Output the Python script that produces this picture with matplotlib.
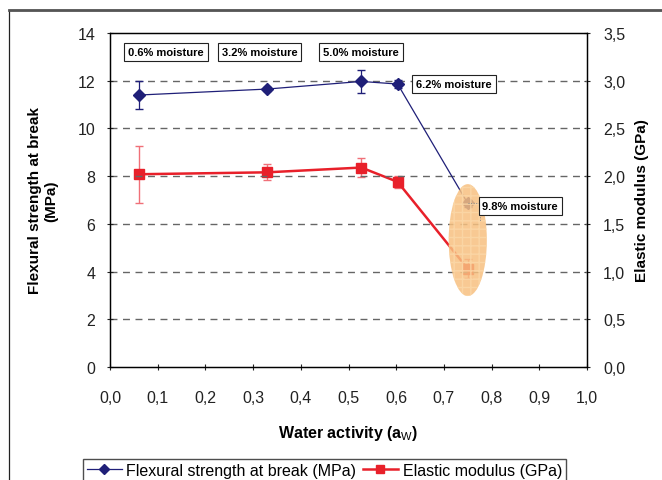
import numpy as np
import matplotlib.pyplot as plt
from matplotlib.patches import Ellipse, Rectangle

plt.rcParams['font.family'] = ['Liberation Sans', 'DejaVu Sans']
plt.rcParams['mathtext.fontset'] = 'custom'
plt.rcParams['mathtext.rm'] = 'Liberation Sans'
plt.rcParams['mathtext.bf'] = 'Liberation Sans:bold'

# dados
aw = [0.061, 0.329, 0.527, 0.603, 0.75]
flex = [11.40, 11.65, 11.97, 11.86, 6.86]
flex_err = [0.59, 0.1, 0.47, 0.15, 0.15]
modulus = [2.02, 2.04, 2.09, 1.94, 1.03]
modulus_err = [0.30, 0.084, 0.10, 0.063, 0.10]

moisture_labels = ['0.6% moisture', '3.2% moisture', '5.0% moisture', '6.2% moisture', '9.8% moisture']
label_pos = [(0.117, 13.2), (0.314, 13.2), (0.526, 13.2), (0.721, 11.86), (0.86, 6.75)]

x_ticks = np.arange(0, 1.01, 0.1)
y_ticks = np.arange(0, 15, 2)
y2_ticks = np.arange(0, 3.51, 0.5)

navy = '#1f1f78'
red = '#e8202a'

fig = plt.figure(figsize=(6.62, 4.81), dpi=100)
fig.patches.append(Rectangle((9 / 662, -0.1), 1.2, 1 - 11 / 481 + 0.1, transform=fig.transFigure,
                             fill=False, edgecolor='#222222', linewidth=0.9))
fig.add_artist(plt.Line2D([9 / 662, 1], [1 - 11 / 481, 1 - 11 / 481], transform=fig.transFigure,
                          color='#555555', linewidth=2))

ax = fig.add_axes([110 / 662, 1 - 368 / 481, 477 / 662, 334 / 481])
ax2 = ax.twinx()

# linhas de grade tracejadas
for v in y_ticks[1:-1]:
    ax.axhline(v, color='#666666', linestyle=(0, (5, 4)), linewidth=1, zorder=0)

ax.errorbar(aw, flex, yerr=flex_err, color=navy, linewidth=0.9, marker='D', markersize=6,
            ecolor=navy, elinewidth=0.9, capsize=3, zorder=3)
ax2.errorbar(aw, modulus, yerr=modulus_err, color=red, linewidth=1.8, marker='s', markersize=7,
             ecolor='#f07078', elinewidth=1, capsize=3, zorder=3)

ax.set_xlim(0, 1)
ax.set_ylim(0, 14)
ax2.set_ylim(0, 3.5)
ax.set_xticks(x_ticks)
ax.set_xticklabels([f'{v:.1f}'.replace('.', ',') for v in x_ticks])
ax.set_yticks(y_ticks)
ax.set_yticklabels([str(v) for v in y_ticks])
ax2.set_yticks(y2_ticks)
ax2.set_yticklabels([f'{v:.1f}'.replace('.', ',') for v in y2_ticks])

for a in (ax, ax2):
    for s in a.spines.values():
        s.set_linewidth(0.9)
ax.tick_params(axis='both', labelsize=11.5, length=5, width=0.8, colors='#222222', direction='inout')
ax.tick_params(axis='x', pad=14)
ax.tick_params(axis='y', pad=8)
ax2.tick_params(axis='y', labelsize=11.5, length=5, width=0.8, colors='#222222', direction='inout', pad=9)

ax.set_xlabel(r'Water activity (a$_{\mathrm{W}}$)', fontsize=11.5, fontweight='bold', labelpad=13)
ax.set_ylabel('Flexural strength at break\n(MPa)', fontsize=11, fontweight='bold', labelpad=14)
ax2.set_ylabel('Elastic modulus (GPa)', fontsize=11, fontweight='bold', labelpad=7)

# elipse destacando o ponto de 9.8%
ell = Ellipse((0.75, 5.32), 0.08, 4.69, facecolor='#f7c080', edgecolor='#fbd8a8',
              hatch='++', alpha=0.85, linewidth=0, zorder=5)
ax.add_patch(ell)
ax.plot([0.75, 0.776, 0.776], [6.86, 6.86, 6.1], color='#888888', linewidth=0.7,
        linestyle=':', zorder=6)

for txt, (xp, yp) in zip(moisture_labels, label_pos):
    ax.text(xp, yp, txt, fontsize=8, fontweight='bold', ha='center', va='center', zorder=7,
            bbox=dict(boxstyle='square,pad=0.35', facecolor='white', edgecolor='#222222',
                      linewidth=0.8))

ax.set_zorder(ax2.get_zorder() + 1)
ax.patch.set_visible(False)

h1 = plt.Line2D([], [], color=navy, marker='D', markersize=5, linewidth=0.9)
h2 = plt.Line2D([], [], color=red, marker='s', markersize=6, linewidth=1.8)
fig.legend([h1, h2], ['Flexural strength at break (MPa)', 'Elastic modulus (GPa)'],
           loc='upper center', bbox_to_anchor=(0.49, 1 - 452 / 481), ncol=2, fontsize=11.5,
           frameon=True, fancybox=False, edgecolor='#222222', handlelength=2.2,
           columnspacing=0.4, handletextpad=0.3, borderpad=0.25)

fig.savefig('out.png', dpi=100)
